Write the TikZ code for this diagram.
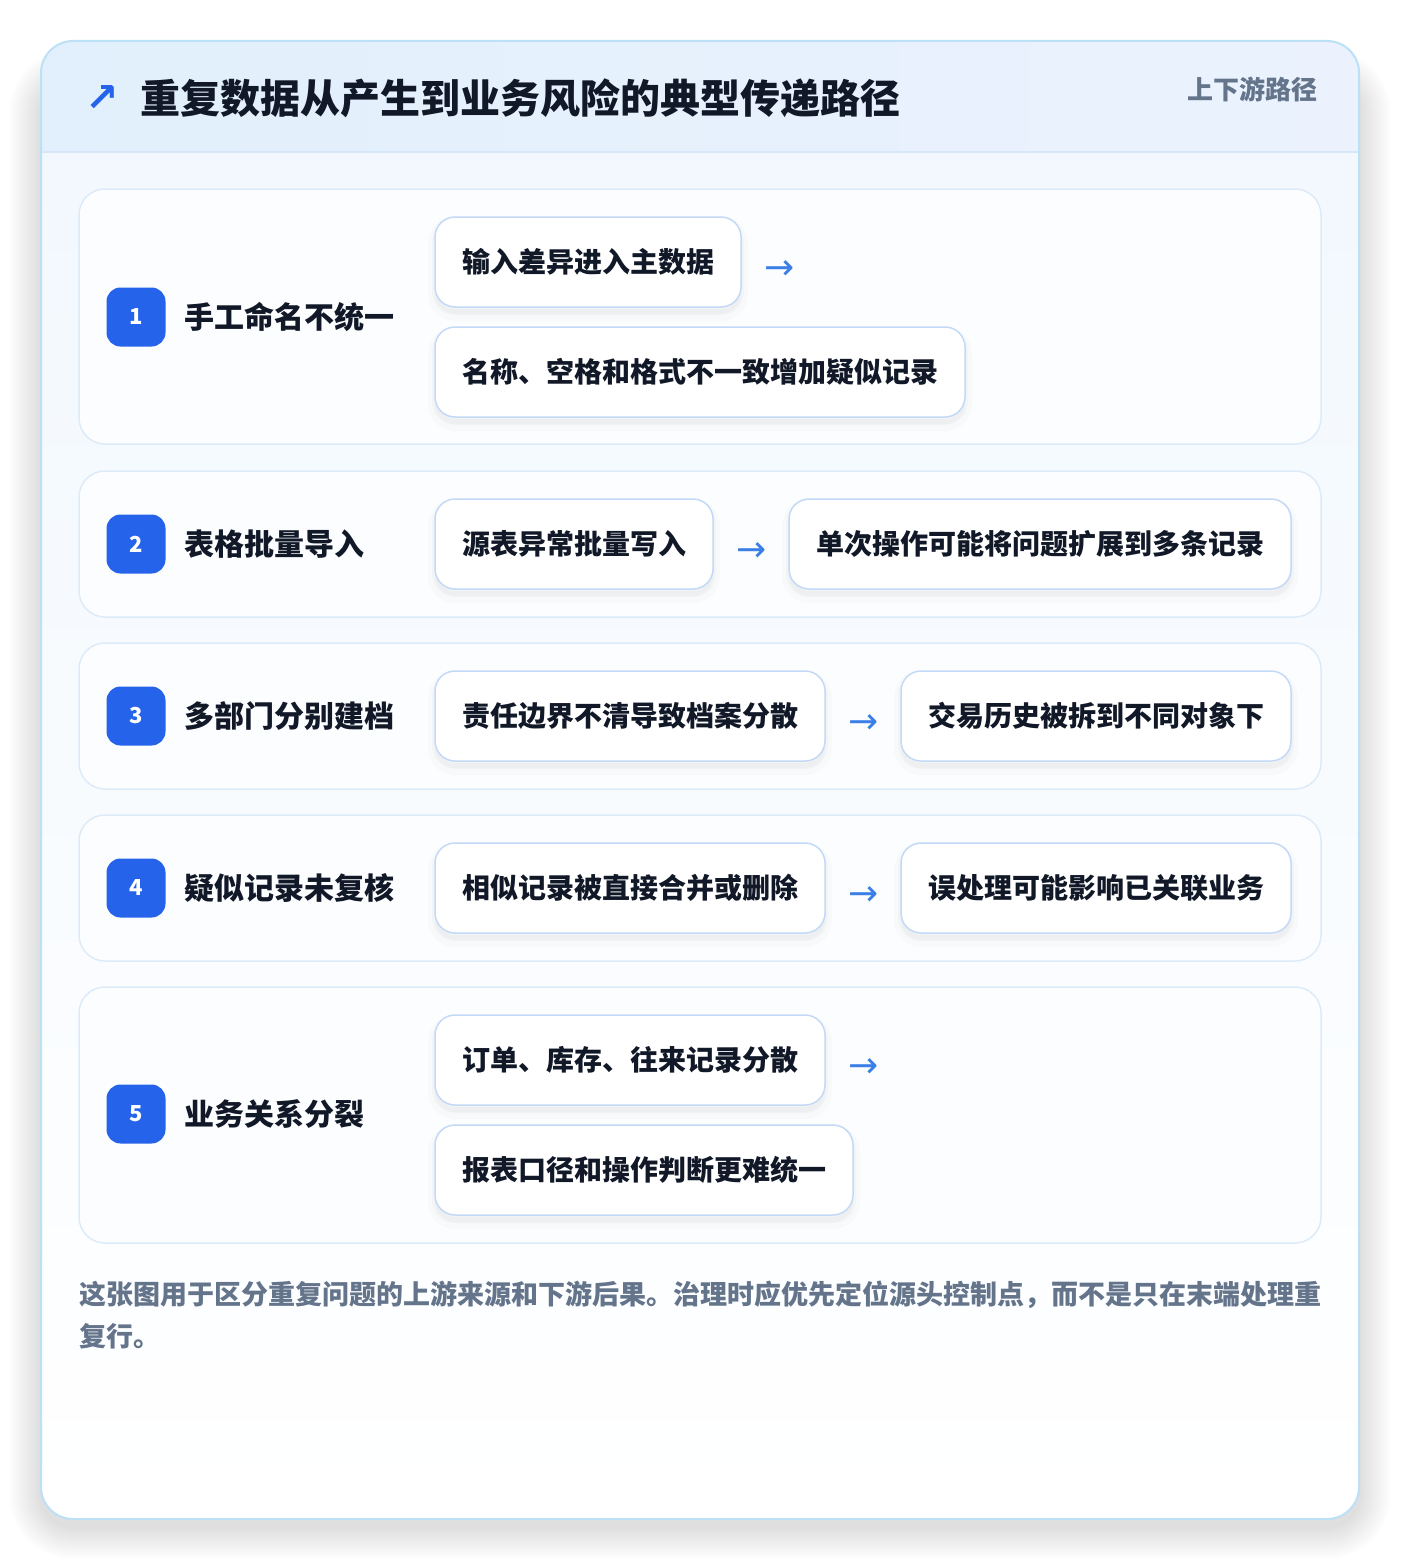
\documentclass[tikz,border=0pt]{standalone}
\usepackage{fontspec}
\setmainfont{Noto Sans CJK SC}
\newfontfamily\symfont{DejaVu Sans}
\definecolor{inkdark}{HTML}{111827}
\definecolor{inkgray}{HTML}{64748B}
\definecolor{badgeblue}{HTML}{2563EB}
\definecolor{arrowblue}{HTML}{3B7FE6}
\definecolor{boxborder}{HTML}{C3D9F5}
\definecolor{rowborder}{HTML}{DDEBF9}
\definecolor{rowfill}{HTML}{FCFDFF}
\definecolor{outerborder}{HTML}{BCE0F5}
\definecolor{hdrL}{HTML}{E1F0FC}
\definecolor{hdrR}{HTML}{EBF2FD}
\definecolor{hdrline}{HTML}{D5E7F8}
\definecolor{cardtop}{HTML}{F2F8FE}
\tikzset{
  rowcard/.style={draw=rowborder, line width=1.5pt, fill=rowfill, rounded corners=26pt, inner sep=0pt},
  badge/.style={fill=badgeblue, rounded corners=14pt, minimum size=59pt, inner sep=0pt, text=white,
    font=\bfseries\fontsize{22}{22}\selectfont},
  lbl/.style={anchor=west, inner sep=0pt, text=inkdark, font=\bfseries\fontsize{30}{30}\selectfont},
  stepbox/.style={draw=boxborder, line width=1.5pt, fill=white, rounded corners=20pt, minimum height=90pt,
    inner sep=0pt, text=inkdark, font=\bfseries\fontsize{28}{28}\selectfont,
    preaction={draw=black, draw opacity=0.015, line width=14pt, fill=black, fill opacity=0.018,
      transform canvas={yshift=-7pt}},
    preaction={draw=black, draw opacity=0.018, line width=6pt, transform canvas={yshift=-5pt}}},
  flowarrow/.style={inner sep=0pt, text=arrowblue, font=\symfont\fontsize{36}{36}\selectfont},
}
\begin{document}
\begin{tikzpicture}[x=1pt,y=-1pt]
\useasboundingbox (0,0) rectangle (1400,1560);
\fill[white] (0,0) rectangle (1400,1560);
% outer card shadow (layered)
\foreach \i in {1,...,16} {
  \fill[black, opacity=0.0065, rounded corners=32pt+2*\i pt]
    (41-2*\i, 41-2*\i+40) rectangle (1359+2*\i, 1519+2*\i+8);
}
\fill[white, rounded corners=32pt] (41,41) rectangle (1359,1519);
\begin{scope}
  \clip[rounded corners=32pt] (41,41) rectangle (1359,1519);
  \shade[top color=cardtop, bottom color=white] (41,152) rectangle (1359,1519);
  \shade[left color=hdrL, right color=hdrR] (41,41) rectangle (1359,152);
  \draw[hdrline, line width=1.5pt] (41,152) -- (1359,152);
\end{scope}
\draw[outerborder, line width=2pt, rounded corners=32pt] (41,41) rectangle (1359,1519);

% header
\node[inner sep=0pt, text=badgeblue, font=\symfont\bfseries\fontsize{40}{40}\selectfont] (icon) at (102,99) {↗};
\node[anchor=west, inner sep=0pt, text=inkdark, font=\bfseries\fontsize{40}{40}\selectfont] (title) at (140,98) {重复数据从产生到业务风险的典型传递路径};
\node[anchor=east, inner sep=0pt, text=inkgray, font=\bfseries\fontsize{26}{26}\selectfont] (tag) at (1318,89) {上下游路径};

% row cards
\node[rowcard, minimum width=1242pt, minimum height=255pt] (r1) at (700,316.5) {};
\node[rowcard, minimum width=1242pt, minimum height=146pt] (r2) at (700,544) {};
\node[rowcard, minimum width=1242pt, minimum height=146pt] (r3) at (700,716) {};
\node[rowcard, minimum width=1242pt, minimum height=146pt] (r4) at (700,888) {};
\node[rowcard, minimum width=1242pt, minimum height=256pt] (r5) at (700,1115) {};

% badges and labels
\node[badge] (b1) at (136,317) {1};
\node[lbl] (l1) at (184,317) {手工命名不统一};
\node[badge] (b2) at (136,544) {2};
\node[lbl] (l2) at (184,544) {表格批量导入};
\node[badge] (b3) at (136,716) {3};
\node[lbl] (l3) at (184,716) {多部门分别建档};
\node[badge] (b4) at (136,888) {4};
\node[lbl] (l4) at (184,888) {疑似记录未复核};
\node[badge] (b5) at (136,1114) {5};
\node[lbl] (l5) at (184,1114) {业务关系分裂};

% step boxes
\node[stepbox, minimum width=306pt] (a1) at (588,262) {输入差异进入主数据};
\node[flowarrow] (t1) at (780,270) {→};
\node[stepbox, minimum width=530pt] (c1) at (700,372) {名称、空格和格式不一致增加疑似记录};

\node[stepbox, minimum width=278pt] (a2) at (574,544) {源表异常批量写入};
\node[flowarrow] (t2) at (752,552) {→};
\node[stepbox, minimum width=502pt] (c2) at (1040,544) {单次操作可能将问题扩展到多条记录};

\node[stepbox, minimum width=390pt] (a3) at (630,716) {责任边界不清导致档案分散};
\node[flowarrow] (t3) at (864,724) {→};
\node[stepbox, minimum width=390pt] (c3) at (1096,716) {交易历史被拆到不同对象下};

\node[stepbox, minimum width=390pt] (a4) at (630,888) {相似记录被直接合并或删除};
\node[flowarrow] (t4) at (864,896) {→};
\node[stepbox, minimum width=390pt] (c4) at (1096,888) {误处理可能影响已关联业务};

\node[stepbox, minimum width=390pt] (a5) at (630,1060) {订单、库存、往来记录分散};
\node[flowarrow] (t5) at (864,1068) {→};
\node[stepbox, minimum width=418pt] (c5) at (644,1170) {报表口径和操作判断更难统一};

% footer
\node[anchor=north west, inner sep=0pt, align=left, text=inkgray,
  font=\bfseries\fontsize{27}{42}\selectfont] (foot) at (79,1281)
  {这张图用于区分重复问题的上游来源和下游后果。治理时应优先定位源头控制点，而不是只在末端处理重\\复行。};
\end{tikzpicture}
\end{document}
